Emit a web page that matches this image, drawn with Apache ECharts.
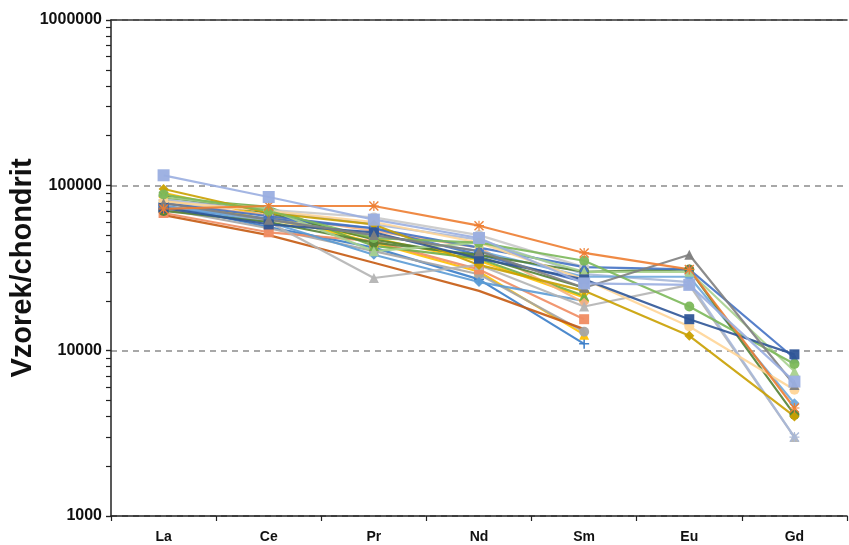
<!DOCTYPE html>
<html>
<head>
<meta charset="utf-8">
<script src="https://cdn.jsdelivr.net/npm/echarts@6/dist/echarts.min.js"></script>
<style>html,body{margin:0;padding:0;background:#fff}#c{width:849px;height:545px}</style>
</head>
<body>
<div id="c"></div>
<script>
const categories = ['La', 'Ce', 'Pr', 'Nd', 'Sm', 'Eu', 'Gd'];
const yTickLabels = [1000, 10000, 100000, 1000000];

// series that continue to Gd
const sA = [115000, 85000, 62000, 48000, 25500, 25000, 6500];
const sB = [72000, 75000, 75000, 57000, 39000, 31000, 4500];
const sC = [78000, 62000, 50000, 40000, 24000, 38000, 6200];
const sD = [73000, 58000, 52000, 36000, 27000, 15500, 9500];
const sE = [88000, 70000, 48000, 45000, 35000, 18500, 8300];
const sF = [95000, 68000, 58000, 33000, 23000, 12300, 4000];
const sG = [80000, 70000, 60000, 45000, 27000, 14000, 5800];
const sH = [85000, 72000, 40000, 45000, 30000, 30000, 7500];
const sI = [80000, 60000, 27500, 33000, 18500, 25000, 3000];
const sJ = [78000, 65000, 55000, 42000, 32000, 31000, 9000];
const sK = [70000, 60000, 45000, 38000, 30000, 31000, 4100];
const sL = [75000, 62000, 50000, 40000, 28000, 28000, 4800];
const sM = [82000, 70000, 58000, 47000, 29000, 26000, 3000];
// series that end at Sm
const sN = [76000, 56000, 42000, 27000, 11000];
const sO = [90000, 65000, 45000, 30000, 12500];
const sP = [72000, 55000, 40000, 29000, 13000];
const sQ = [68000, 52000, 46000, 31000, 15500];
const sR = [66000, 50000, 34000, 23000, 13500];
const sS = [74000, 60000, 38000, 26000, 20000];
const sT = [82000, 62000, 48000, 35000, 21000];
const sU = [84000, 74000, 43000, 36000, 21500];
const sV = [78000, 66000, 53000, 42000, 19500];
const sW = [86000, 68000, 47000, 37000, 24000];
const sX = [77000, 71000, 64000, 50000, 32000];
const sY = [74000, 63000, 55000, 38000, 26000];

const PLUS = 'path://M4.2,0H5.8V4.2H10V5.8H5.8V10H4.2V5.8H0V4.2H4.2Z';
const XMARK = 'path://M1.2,0L5,3.8L8.8,0L10,1.2L6.2,5L10,8.8L8.8,10L5,6.2L1.2,10L0,8.8L3.8,5L0,1.2Z';
const ASTER = 'path://M4.4,0H5.6V10H4.4Z M0,4.4H10V5.6H0Z M1,0L5,4L9,0L10,1L6,5L10,9L9,10L5,6L1,10L0,9L4,5L0,1Z';

const seriesData = [sN, sO, sP, sQ, sR, sS, sT, sU, sV, sW, sX, sY,
                    sI, sM, sL, sK, sJ, sH, sG, sF, sE, sD, sC, sB, sA];
const seriesNames = ['N','O','P','Q','R','S','T','U','V','W','X','Y',
                     'I','M','L','K','J','H','G','F','E','D','C','B','A'];
const seriesColors = ['#3A7DC8','#FFC000','#A5A5A5','#F08C62','#C55A11','#5B9BD5','#FFC000','#70AD47','#F4B183','#548235','#C9C9C9','#4472C4',
                      '#B4B4B4','#A9B8D8','#6FA8DC','#548235','#4472C4','#A9D18E','#FFD597','#C9A000','#7CB85A','#2F5597','#7F7F7F','#ED7D31','#9AAEE0'];
const seriesSymbols = [PLUS,'triangle','circle','rect','none','diamond',XMARK,'triangle','diamond',ASTER,'circle','rect',
                       'triangle',ASTER,'diamond','circle','triangle','triangle','circle','diamond','circle','rect','triangle',ASTER,'rect'];

const series = seriesData.map((d, i) => ({
  name: seriesNames[i],
  type: 'line',
  data: d,
  symbol: seriesSymbols[i],
  symbolSize: seriesNames[i] === 'A' ? 12 : 10,
  showSymbol: seriesSymbols[i] !== 'none',
  lineStyle: { color: seriesColors[i], width: 2.2, opacity: 0.9 },
  itemStyle: { color: seriesColors[i], opacity: 0.95 },
  emphasis: { disabled: true },
  z: 3
}));

const minorTicks = [];
for (let e = 3; e < 6; e++) {
  for (let m = 1; m <= 9; m++) minorTicks.push(e + Math.log10(m));
}
minorTicks.push(6);

const chart = echarts.init(document.getElementById('c'), null, { renderer: 'canvas' });
chart.setOption({
  animation: false,
  backgroundColor: '#fff',
  grid: { left: 111, right: 2, top: 20, bottom: 29, containLabel: false, outerBoundsMode: 'none' },
  xAxis: [{
    type: 'category',
    data: categories,
    boundaryGap: true,
    axisLine: { lineStyle: { color: '#222', width: 1.5 } },
    axisTick: { show: true, length: 5, lineStyle: { color: '#222', width: 1.2 } },
    axisLabel: { color: '#111', fontWeight: 'bold', fontSize: 14, fontFamily: 'Liberation Sans Narrow, Liberation Sans, Arial', margin: 14 },
    splitLine: { show: false }
  }, {
    type: 'category',
    data: categories,
    position: 'top',
    axisLine: { show: true, lineStyle: { color: '#333', width: 1.5 } },
    axisTick: { show: false },
    axisLabel: { show: false },
    splitLine: { show: false }
  }],
  yAxis: [{
    type: 'log',
    logBase: 10,
    min: yTickLabels[0],
    max: yTickLabels[yTickLabels.length - 1],
    name: 'Vzorek/chondrit',
    nameLocation: 'middle',
    nameGap: 74,
    nameMoveOverlap: false,
    nameTextStyle: { color: '#111', fontWeight: 'bold', fontSize: 29, fontFamily: 'Liberation Sans, Arial' },
    axisLine: { show: true, lineStyle: { color: '#222', width: 1.5 } },
    axisTick: { show: true, length: 5, lineStyle: { color: '#222', width: 1.2 } },
    axisLabel: { color: '#111', fontWeight: 'bold', fontSize: 16, fontFamily: 'Liberation Sans, Arial', margin: 9,
                 formatter: v => String(Math.round(v)) },
    splitLine: { show: true, lineStyle: { color: '#8C8C8C', type: [6, 5], width: 1.5 } }
  }, {
    type: 'value',
    min: 3,
    max: 6,
    position: 'left',
    axisLine: { show: false },
    axisLabel: { show: false },
    splitLine: { show: false },
    axisTick: { show: true, length: 5, customValues: minorTicks, lineStyle: { color: '#222', width: 1.2 } }
  }],
  series: series
});
</script>
</body>
</html>
